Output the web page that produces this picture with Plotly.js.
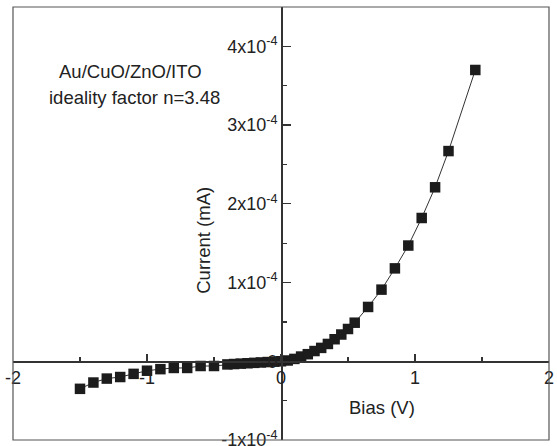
<!DOCTYPE html>
<html>
<head>
<meta charset="utf-8">
<script src="https://cdn.plot.ly/plotly-3.0.1.min.js"></script>
<style>html,body{margin:0;padding:0;background:#fff;}#chart{width:557px;height:446px;}</style>
</head>
<body>
<div id="chart"></div>
<script>
// Bias (V)
const bias = [-1.5, -1.4, -1.3, -1.2, -1.1, -1.0, -0.9, -0.8, -0.7, -0.6, -0.5, -0.4,
  -0.35, -0.3, -0.25, -0.2, -0.15, -0.1, -0.05, 0,
  0.05, 0.1, 0.15, 0.2, 0.25, 0.3, 0.35, 0.4, 0.45, 0.5, 0.55,
  0.65, 0.75, 0.85, 0.95, 1.05, 1.15, 1.25, 1.45];
// Current (mA), in units of 1e-4
const current_e4 = [-0.35, -0.27, -0.22, -0.20, -0.16, -0.12, -0.10, -0.085, -0.085, -0.06, -0.06, -0.04,
  -0.035, -0.03, -0.025, -0.02, -0.015, -0.01, -0.005, 0,
  0.01, 0.03, 0.06, 0.09, 0.13, 0.17, 0.22, 0.28, 0.34, 0.41, 0.49,
  0.69, 0.91, 1.18, 1.47, 1.82, 2.21, 2.67, 3.70];
const xTickVals = [-2, -1, 0, 1, 2];
const xTickText = ['-2', '-1', '0', '1', '2'];
const yTickVals = [-1e-4, 0, 1e-4, 2e-4, 3e-4, 4e-4];
const yTickText = ['-1x10<sup>-4</sup>', '0', '1x10<sup>-4</sup>', '2x10<sup>-4</sup>', '3x10<sup>-4</sup>', '4x10<sup>-4</sup>'];
const labelLine1 = 'Au/CuO/ZnO/ITO';
const labelLine2 = 'ideality factor n=3.48';
const xTitle = 'Bias (V)';
const yTitle = 'Current (mA)';

const current = current_e4.map(v => v * 1e-4);
const F = 'Liberation Sans, Arial, sans-serif';
const yRange = [-1e-4, 4.5e-4];
const xRange = [-2, 2];
const xAxisPos = (0 - yRange[0]) / (yRange[1] - yRange[0]);
const yAxisPos = (0 - xRange[0]) / (xRange[1] - xRange[0]);

const trace = {
  x: bias, y: current, type: 'scatter', mode: 'lines+markers',
  line: {color: '#333', width: 1},
  marker: {symbol: 'square', size: 10.5, color: '#1c1c1c'},
  cliponaxis: false, showlegend: false
};

const layout = {
  width: 557, height: 446,
  margin: {l: 13, r: 8, t: 7, b: 6},
  paper_bgcolor: '#fff', plot_bgcolor: '#fff',
  font: {family: F, size: 18, color: '#222'},
  xaxis: {
    range: xRange, anchor: 'free', position: xAxisPos,
    showline: true, linecolor: '#333', linewidth: 1.5,
    ticks: 'inside', ticklen: 7, tickwidth: 1.2, tickcolor: '#333',
    tickvals: xTickVals, ticktext: xTickText, ticklabeloverflow: 'allow',
    minor: {ticks: 'inside', ticklen: 4, tickwidth: 1.2, tickcolor: '#333', tickvals: [-1.5, -0.5, 0.5, 1.5]},
    showgrid: false, zeroline: false,
    tickfont: {family: F, size: 18, color: '#222'}
  },
  yaxis: {
    range: yRange, anchor: 'free', position: yAxisPos,
    showline: true, linecolor: '#333', linewidth: 1.5,
    ticks: 'inside', ticklen: 8, tickwidth: 1.2, tickcolor: '#333',
    tickvals: yTickVals, ticktext: yTickText, ticklabeloverflow: 'allow',
    minor: {ticks: 'inside', ticklen: 4, tickwidth: 1.2, tickcolor: '#333', tickvals: [-0.5e-4, 0.5e-4, 1.5e-4, 2.5e-4, 3.5e-4]},
    showgrid: false, zeroline: false,
    tickfont: {family: F, size: 18, color: '#222'}
  },
  shapes: [{type: 'rect', xref: 'paper', yref: 'paper', x0: 0, x1: 1, y0: 0, y1: 1,
    line: {color: '#555', width: 1.2}}],
  annotations: [
    {text: labelLine1, xref: 'paper', yref: 'paper', x: 0.082, y: 0.850, xanchor: 'left', yanchor: 'middle', showarrow: false, font: {family: F, size: 18.5, color: '#222'}},
    {text: labelLine2, xref: 'paper', yref: 'paper', x: 0.063, y: 0.790, xanchor: 'left', yanchor: 'middle', showarrow: false, font: {family: F, size: 18.5, color: '#222'}},
    {text: xTitle, xref: 'paper', yref: 'paper', x: 0.688, y: 0.074, xanchor: 'center', yanchor: 'middle', showarrow: false, font: {family: F, size: 18.5, color: '#222'}},
    {text: yTitle, xref: 'paper', yref: 'paper', x: 0.356, y: 0.462, xanchor: 'center', yanchor: 'middle', textangle: -90, showarrow: false, font: {family: F, size: 18.5, color: '#222'}}
  ]
};

Plotly.newPlot('chart', [trace], layout, {displayModeBar: false, staticPlot: true});
</script>
</body>
</html>
